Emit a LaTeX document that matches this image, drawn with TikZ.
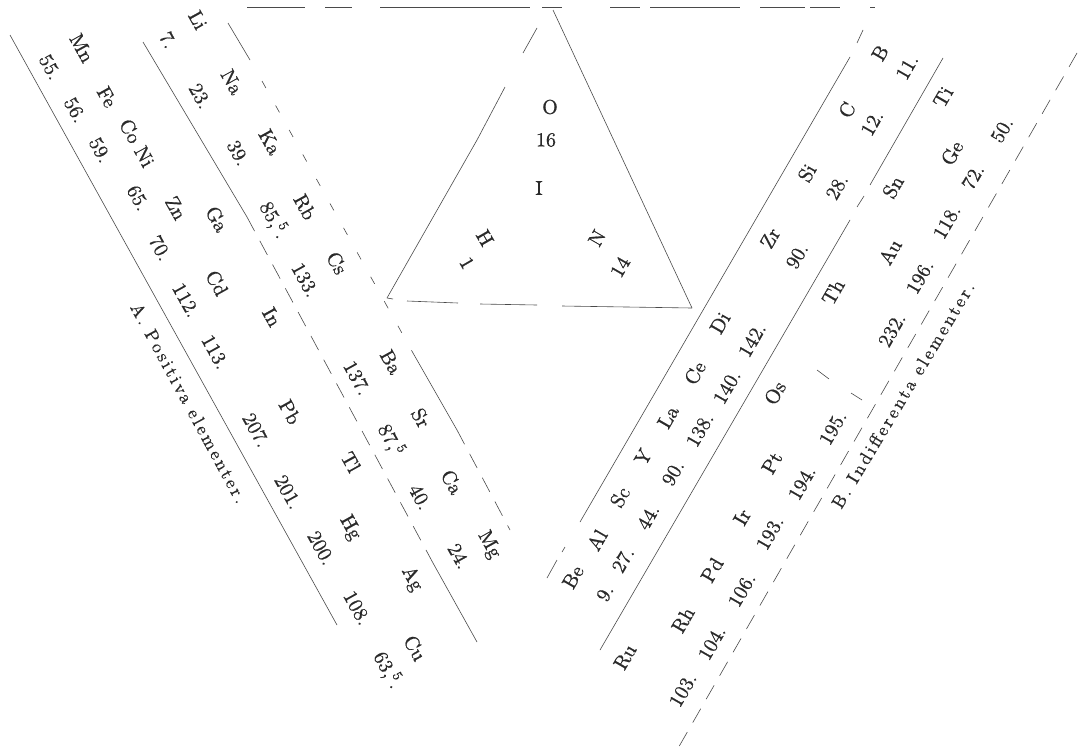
\documentclass[tikz,border=0pt]{standalone}
\usepackage{fontspec}
\newfontfamily\elfont{lmroman10-regular.otf}[RawFeature={embolden=0.8}]
\newfontfamily\capfont{lmroman10-regular.otf}[LetterSpace=15,RawFeature={embolden=0.6}]
\begin{document}
\definecolor{ink}{HTML}{2A2A2A}
\definecolor{rule}{HTML}{4A4A4A}
\begin{tikzpicture}[x=1pt,y=-1pt,
  el/.style={font=\elfont\fontsize{20}{20}\selectfont, text=ink, inner sep=0pt},
  lft/.style={el, rotate=-61},
  rgt/.style={el, rotate=60},
  captxt/.style={font=\capfont\fontsize{18}{18}\selectfont, text=ink, inner sep=0pt},
  ln/.style={draw=rule, line width=0.6pt},
  dsh/.style={ln, dash pattern=on 16pt off 11pt},
  sdsh/.style={ln, dash pattern=on 8pt off 20pt}]
\useasboundingbox (0,0) rectangle (1083,753);
\fill[white] (0,0) rectangle (1083,753);

% ---------- top line ----------
\foreach \a/\b in {247/305,325/352,380/530,542/562,610/640,650/740,760/805,810/840,870/875}
  \draw[ln] (\a,7) -- (\b,7);

% ---------- left arm lines ----------
\coordinate (L1a) at (10,35);   \coordinate (L1b) at (337,625);
\draw[ln] (L1a) -- (L1b);
\coordinate (L2a) at (143,42);  \coordinate (L2b) at (247,217);
\coordinate (L2c) at (433,563); \coordinate (L2d) at (477,642);
\draw[ln] (L2a) -- (L2b);
\draw[dsh] (L2b) -- (L2c);
\draw[ln] (L2c) -- (L2d);
\coordinate (L3a) at (228,23);  \coordinate (L3e) at (250,60);
\coordinate (L3f) at (262,81);  \coordinate (L3b) at (413,353);
\coordinate (L3c) at (457,430); \coordinate (L3d) at (510,530);
\draw[ln] (L3a) -- (L3e);
\draw[sdsh] (L3f) -- (L3b);
\draw[ln] (L3b) -- (L3c);
\draw[dsh] (L3c) -- (L3d);

% ---------- triangle ----------
\coordinate (Tt) at (553,10); \coordinate (Tl) at (387,298); \coordinate (Tr) at (692,308);
\draw[ln] (Tt) -- (Tr);
\draw[ln] (537,28) -- (523,53);
\draw[ln] (505,87) -- (477,140);
\draw[ln] (477,140) -- (Tl);
\draw[ln] (Tl) -- (393,299);
\draw[ln] (407,301) -- (458,303);
\draw[ln] (480,304) -- (537,305);
\draw[ln] (562,306) -- (Tr);

% ---------- right arm lines ----------
\coordinate (R1a) at (863,30); \coordinate (R1b) at (580,522);
\draw[ln] (R1a) -- (857,43);
\draw[ln] (850,57) -- (R1b);
\draw[ln] (565,547) -- (562,552);
\draw[ln] (557,560) -- (547,578);
\coordinate (R2a) at (943,58); \coordinate (R2b) at (600,650);
\draw[ln] (R2a) -- (870,185);
\draw[ln] (864,196) -- (857,207);
\draw[ln] (850,220) -- (R2b);
\coordinate (R3a) at (1077,53); \coordinate (R3b) at (677,750);
\draw[dsh] (R3a) -- (R3b);
\draw[ln] (817,370) -- (829,379);
\draw[ln] (851,393) -- (862,400);

% ---------- triangle texts ----------
\node[el] (O) at (550,107) {O};
\node[el] (O16) at (546,140) {16};
\node[el] (I) at (539,188) {I};
\node[el, rotate=-60] (H) at (485,238) {H};
\node[el, rotate=-60] (H1) at (467,263) {1};
\node[el, rotate=60] (N) at (597,238) {N};
\node[el, rotate=60] (N14) at (620,267) {14};

% ---------- left arm: inner band ----------
\node[lft] (Li) at (198,20) {Li};   \node[lft] (wLi) at (168,40) {7.};
\node[lft] (Na) at (232,82) {Na};   \node[lft] (wNa) at (200,96) {23.};
\node[lft] (Ka) at (270,142) {Ka};  \node[lft] (wKa) at (238,153) {39.};
\node[lft] (Rb) at (305,207) {Rb};  \node[lft] (wRb) at (274,220) {85,\textsuperscript{5}.};
\node[lft] (Cs) at (337,263) {Cs};  \node[lft] (wCs) at (305,280) {133.};
\node[lft] (Ba) at (391,362) {Ba};  \node[lft] (wBa) at (357,378) {137.};
\node[lft] (Sr) at (421,418) {Sr};  \node[lft] (wSr) at (391,440) {87,\textsuperscript{5}};
\node[lft] (Ca) at (452,482) {Ca};  \node[lft] (wCa) at (420,497) {40.};
\node[lft] (Mg) at (489,545) {Mg};  \node[lft] (wMg) at (459,556) {24.};

% ---------- left arm: outer band ----------
\node[lft] (Mn) at (82,48) {Mn};     \node[lft] (wMn) at (50,67) {55.};
\node[lft] (Fe) at (107,97) {Fe};    \node[lft] (wFe) at (75,110) {56.};
\node[lft] (CoNi) at (137,143) {Co Ni}; \node[lft] (wCoNi) at (100,150) {59.};
\node[lft] (Zn) at (176,208) {Zn};   \node[lft] (wZn) at (138,198) {65.};
\node[lft] (Ga) at (217,219) {Ga};   \node[lft] (wGa) at (160,248) {70.};
\node[lft] (Cd) at (217,283) {Cd};   \node[lft] (wCd) at (186,300) {112.};
\node[lft] (In) at (272,317) {In};   \node[lft] (wIn) at (215,352) {113.};
\node[lft] (Pb) at (290,412) {Pb};   \node[lft] (wPb) at (256,430) {207.};
\node[lft] (Tl) at (351,462) {Tl};   \node[lft] (wTl) at (288,492) {201.};
\node[lft] (Hg) at (350,528) {Hg};   \node[lft] (wHg) at (321,548) {200.};
\node[lft] (Ag) at (412,579) {Ag};   \node[lft] (wAg) at (357,608) {108.};
\node[lft] (Cu) at (415,648) {Cu};   \node[lft] (wCu) at (388,670) {63,\textsuperscript{5}.};

\node[captxt, rotate=-61.5] (capA) at (189,403) {A. Positiva elementer.};

% ---------- right arm: inner band ----------
\node[rgt] (B) at (880,53) {B};    \node[rgt] (wB) at (907,67) {11.};
\node[rgt] (C) at (847,110) {C};   \node[rgt] (wC) at (872,123) {12.};
\node[rgt] (Si) at (807,173) {Si}; \node[rgt] (wSi) at (837,187) {28.};
\node[rgt] (Zr) at (770,238) {Zr}; \node[rgt] (wZr) at (797,256) {90.};
\node[rgt] (Di) at (720,323) {Di}; \node[rgt] (wDi) at (752,340) {142.};
\node[rgt] (Ce) at (695,373) {Ce}; \node[rgt] (wCe) at (727,387) {140.};
\node[rgt] (La) at (668,417) {La}; \node[rgt] (wLa) at (700,430) {138.};
\node[rgt] (Y) at (643,457) {Y};   \node[rgt] (wY) at (673,473) {90.};
\node[rgt] (Sc) at (620,497) {Sc}; \node[rgt] (wSc) at (648,517) {44.};
\node[rgt] (Al) at (597,540) {Al}; \node[rgt] (wAl) at (623,560) {27.};
\node[rgt] (Be) at (573,577) {Be}; \node[rgt] (wBe) at (605,593) {9.};

% ---------- right arm: outer band ----------
\node[rgt] (Ti) at (943,97) {Ti};  \node[rgt] (wTi) at (1002,130) {50.};
\node[rgt] (Ge) at (952,153) {Ge}; \node[rgt] (wGe) at (973,177) {72.};
\node[rgt] (Sn) at (893,187) {Sn}; \node[rgt] (wSn) at (947,222) {118.};
\node[rgt] (Au) at (890,252) {Au}; \node[rgt] (wAu) at (920,277) {196.};
\node[rgt] (Th) at (833,292) {Th}; \node[rgt] (wTh) at (892,330) {232.};
\node[rgt] (Os) at (775,393) {Os}; \node[rgt] (wOs) at (833,428) {195.};
\node[rgt] (Pt) at (772,463) {Pt}; \node[rgt] (wPt) at (802,483) {194.};
\node[rgt] (Ir) at (742,517) {Ir}; \node[rgt] (wIr) at (770,533) {193.};
\node[rgt] (Pd) at (712,570) {Pd}; \node[rgt] (wPd) at (742,590) {106.};
\node[rgt] (Rh) at (683,620) {Rh}; \node[rgt] (wRh) at (712,643) {104.};
\node[rgt] (Ru) at (625,657) {Ru}; \node[rgt] (wRu) at (683,690) {103.};

\node[captxt, rotate=59] (capB) at (903,395) {B. Indifferenta elementer.};
\end{tikzpicture}
\end{document}
